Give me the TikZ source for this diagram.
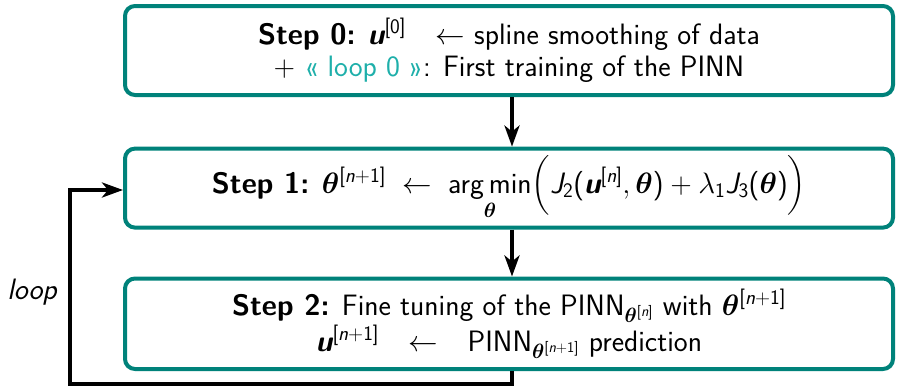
\documentclass[tikz,border=0pt]{standalone}
\usepackage{fix-cm}
\usepackage{amsmath,bm}
\usepackage[no-math]{fontspec}
\DeclareSymbolFont{operators}{TU}{lmss}{m}{n}
\SetSymbolFont{operators}{bold}{TU}{lmss}{bx}{n}
\DeclareSymbolFont{sfletters}{TU}{lmss}{m}{sl}
\SetSymbolFont{sfletters}{bold}{TU}{lmss}{bx}{sl}
\DeclareMathSymbol{n}{\mathalpha}{sfletters}{`n}
\DeclareMathSymbol{u}{\mathalpha}{sfletters}{`u}
\DeclareMathSymbol{J}{\mathalpha}{sfletters}{`J}
\usetikzlibrary{arrows.meta}
\definecolor{boxteal}{RGB}{0,130,122}
\definecolor{loopteal}{RGB}{30,175,170}
\tikzset{
  stepbox/.style={draw=boxteal, line width=4pt, rounded corners=10pt,
    minimum width=768pt, align=center, inner sep=0pt},
  flow/.style={line width=4pt, -{Stealth[length=21pt,width=15pt,inset=6pt]}},
}
\begin{document}
\begin{tikzpicture}[x=1pt,y=-1pt,font=\fontsize{29.5}{32}\selectfont\sffamily]
\useasboundingbox (0,0) rectangle (898,386);
\node[stepbox, minimum height=89pt] (b0) at (509,50.5)
  {\textbf{Step 0:} $\boldsymbol{u}^{[0]}$\quad$\leftarrow$ spline smoothing of data\\
   $+$ {\color{loopteal}«\ loop 0 »}: First training of the PINN};
\node[stepbox, minimum height=79pt] (b1) at (509,188.1)
  {\textbf{Step 1:} $\boldsymbol{\theta}^{[n+1]} \;\leftarrow\; \mathop{\text{arg\,min}}\limits_{\boldsymbol{\theta}}
   \Bigl(J_2(\boldsymbol{u}^{[n]},\boldsymbol{\theta})+\lambda_1 J_3(\boldsymbol{\theta})\Bigr)$};
\node[stepbox, minimum height=90.5pt] (b2) at (509,323.75)
  {\textbf{Step 2:} Fine tuning of the PINN$_{\boldsymbol{\theta}^{[n]}}$ with $\boldsymbol{\theta}^{[n+1]}$\\[2pt]
   $\boldsymbol{u}^{[n+1]}$\quad$\leftarrow$\quad PINN$_{\boldsymbol{\theta}^{[n+1]}}$ prediction};
\node[font=\fontsize{29.5}{32}\selectfont\sffamily\slshape] (lp) at (32,292) {loop};
\coordinate (c1) at (512,384);
\coordinate (c2) at (70,384);
\coordinate (c3) at (70,190);
\draw[flow] (b0.south -| 512,0) -- (b1.north -| 512,0);
\draw[flow] (b1.south -| 512,0) -- (b2.north -| 512,0);
\draw[flow] (b2.south -| c1) -- (c1) -- (c2) -- (c3) -- (c3 -| b1.west);
\end{tikzpicture}
\end{document}
